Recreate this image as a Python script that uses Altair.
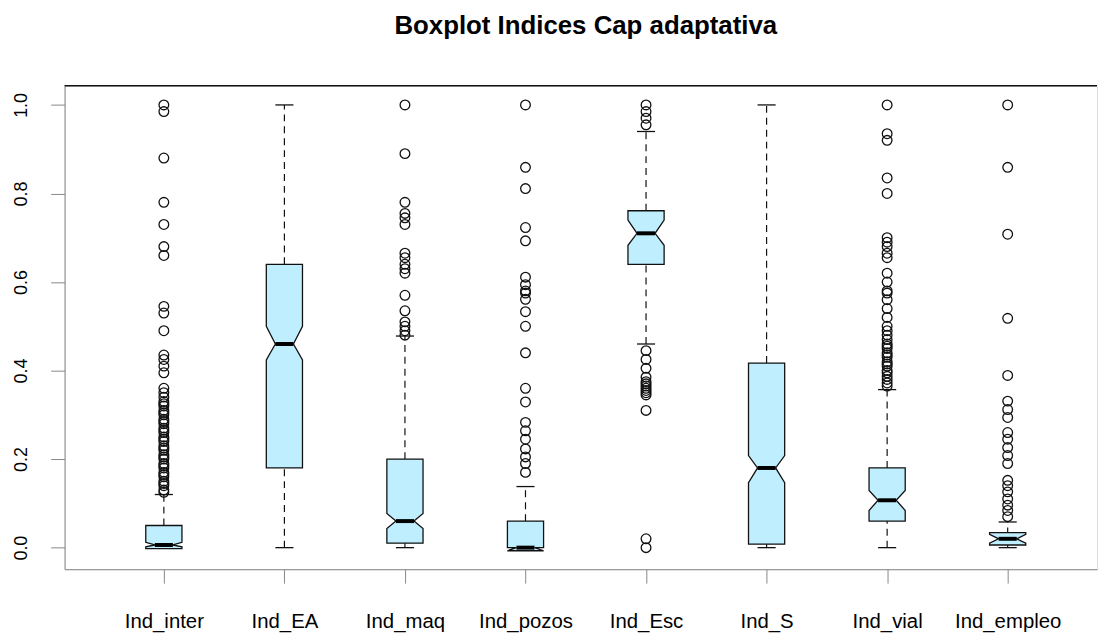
import json
import altair as alt
import pandas as pd

# ---------------- data ----------------
categories = ["Ind_inter", "Ind_EA", "Ind_maq", "Ind_pozos",
              "Ind_Esc", "Ind_S", "Ind_vial", "Ind_empleo"]

whisker_low = [0.0, 0.0, 0.0, 0.0, 0.46, 0.0, 0.0, 0.0]
q1          = [0.002, 0.18, 0.01, 0.0, 0.64, 0.008, 0.06, 0.01]
notch_low   = [-0.002, 0.424, 0.043, -0.007, 0.683, 0.147, 0.084, 0.006]
median      = [0.006, 0.46, 0.06, 0.0, 0.71, 0.18, 0.107, 0.02]
notch_high  = [0.012, 0.50, 0.077, 0.007, 0.74, 0.208, 0.129, 0.034]
q3          = [0.05, 0.64, 0.20, 0.06, 0.761, 0.417, 0.18, 0.03]
whisker_high = [0.12, 1.0, 0.478, 0.138, 0.94, 1.0, 0.357, 0.058]

out_inter = [0.125, 0.13, 0.14, 0.145, 0.15, 0.16, 0.165, 0.17, 0.18, 0.185,
             0.19, 0.20, 0.205, 0.21, 0.22, 0.225, 0.23, 0.24, 0.245, 0.25,
             0.26, 0.265, 0.27, 0.28, 0.285, 0.29, 0.30, 0.305, 0.31, 0.32,
             0.325, 0.33, 0.34, 0.35, 0.36, 0.395, 0.41, 0.425, 0.435, 0.49,
             0.53, 0.545, 0.66, 0.68, 0.73, 0.78, 0.88, 0.985, 1.0]
out_ea = []
out_maq = [0.48, 0.49, 0.50, 0.51, 0.535, 0.57, 0.62, 0.63, 0.64, 0.655,
           0.665, 0.73, 0.745, 0.755, 0.78, 0.89, 1.0]
out_pozos = [0.17, 0.19, 0.205, 0.223, 0.245, 0.264, 0.283, 0.329, 0.36,
             0.44, 0.50, 0.533, 0.561, 0.575, 0.58, 0.594, 0.611, 0.693,
             0.723, 0.811, 0.859, 1.0]
out_esc = [1.0, 0.985, 0.97, 0.955, 0.445, 0.425, 0.405, 0.385, 0.375, 0.37,
           0.365, 0.36, 0.355, 0.35, 0.345, 0.31, 0.02, 0.0]
out_s = []
out_vial = [0.365, 0.372, 0.38, 0.387, 0.395, 0.40, 0.41, 0.415, 0.42, 0.43,
            0.435, 0.44, 0.45, 0.455, 0.46, 0.47, 0.48, 0.49, 0.50, 0.52,
            0.54, 0.56, 0.575, 0.58, 0.60, 0.62, 0.655, 0.665, 0.68, 0.69,
            0.70, 0.80, 0.835, 0.92, 0.935, 1.0]
out_empleo = [0.07, 0.084, 0.096, 0.11, 0.126, 0.14, 0.152, 0.19, 0.208,
              0.226, 0.245, 0.26, 0.294, 0.312, 0.331, 0.389, 0.518, 0.708,
              0.859, 1.0]
outliers = [out_inter, out_ea, out_maq, out_pozos, out_esc, out_s, out_vial, out_empleo]

title_text = "Boxplot Indices Cap adaptativa"
y_ticks = [0.0, 0.2, 0.4, 0.6, 0.8, 1.0]
positions = [1, 2, 3, 4, 5, 6, 7, 8]

# ---------------- geometry helpers (data units) ----------------
HALF = 0.15          # half box width
NOTCH = 0.5          # notch fraction
CAP = 0.075          # half staple width
BOX_FILL = "#BFEFFF"
INK = "#111111"

box_rows, whisk_rows, cap_rows, med_rows, pt_rows = [], [], [], [], []
for i, cat in enumerate(categories):
    p = positions[i]
    seq = [(q1[i], 1.0), (notch_low[i], 1.0), (median[i], NOTCH),
           (notch_high[i], 1.0), (q3[i], 1.0)]
    for k, (yv, f) in enumerate(seq):
        box_rows.append(dict(cat=cat, k=k, y=yv, xl=p - HALF * f, xr=p + HALF * f))
    whisk_rows.append(dict(cat=cat, x=p, y1=q3[i], y2=whisker_high[i]))
    whisk_rows.append(dict(cat=cat, x=p, y1=whisker_low[i], y2=q1[i]))
    cap_rows.append(dict(cat=cat, xl=p - CAP, xr=p + CAP, y=whisker_high[i]))
    cap_rows.append(dict(cat=cat, xl=p - CAP, xr=p + CAP, y=whisker_low[i]))
    med_rows.append(dict(cat=cat, xl=p - HALF * NOTCH, xr=p + HALF * NOTCH, y=median[i]))
    for v in outliers[i]:
        pt_rows.append(dict(cat=cat, x=p, y=v))

box_df = pd.DataFrame(box_rows)
whisk_df = pd.DataFrame(whisk_rows)
cap_df = pd.DataFrame(cap_rows)
med_df = pd.DataFrame(med_rows)
pt_df = pd.DataFrame(pt_rows)

W, H = 1040, 487
xscale = alt.Scale(domain=[0.1765, 8.741], nice=False, zero=False)
yscale = alt.Scale(domain=[-0.0487, 1.0433], nice=False, zero=False)

label_expr = json.dumps(categories) + "[round(datum.value) - 1]"
xaxis = alt.Axis(values=positions, labelExpr=label_expr, title=None, grid=False,
                 tickSize=14, labelPadding=45, labelBaseline="alphabetic",
                 labelFontSize=20.5, labelAngle=0, labelAlign="center",
                 labelFlush=False, labelOverlap=False)
yaxis = alt.Axis(values=y_ticks, format=".1f", title=None, grid=False,
                 tickSize=14, labelPadding=24, labelAngle=270,
                 labelAlign="center", labelBaseline="alphabetic",
                 labelFontSize=18, labelFlush=False, labelOverlap=False)


def X(f):
    return alt.X(f, type="quantitative", scale=xscale, axis=xaxis)


def Y(f):
    return alt.Y(f, type="quantitative", scale=yscale, axis=yaxis)


whiskers = alt.Chart(whisk_df).mark_rule(
    color=INK, strokeWidth=1.2, strokeDash=[7, 5]
).encode(x=X("x"), y=Y("y1"), y2="y2:Q")

caps = alt.Chart(cap_df).mark_rule(color=INK, strokeWidth=1.3).encode(
    x=X("xl"), x2="xr:Q", y=Y("y"))

boxes = alt.Chart(box_df).mark_area(
    orient="horizontal", fill=BOX_FILL, stroke=INK, strokeWidth=1.3,
    opacity=1, fillOpacity=1
).encode(y=Y("y"), x=X("xl"), x2="xr:Q", detail="cat:N")

medians = alt.Chart(med_df).mark_rule(color="black", strokeWidth=4).encode(
    x=X("xl"), x2="xr:Q", y=Y("y"))

points = alt.Chart(pt_df).mark_point(
    shape="circle", filled=False, size=95, strokeWidth=1.3, color=INK, opacity=1
).encode(x=X("x"), y=Y("y"))

top_border = alt.Chart(pd.DataFrame({"a": [0]})).mark_rule(
    color=INK, strokeWidth=1.3
).encode(x=alt.value(0), x2=alt.value(W), y=alt.value(0))

title = alt.Chart(pd.DataFrame({"t": [title_text]})).mark_text(
    font="Liberation Sans", fontSize=26, fontWeight="bold", color="black",
    align="center", baseline="alphabetic"
).encode(text="t:N", x=alt.value(525), y=alt.value(-52))

chart = alt.layer(whiskers, caps, boxes, medians, points, top_border, title).properties(
    width=W, height=H,
    autosize=alt.AutoSizeParams(type="none"),
    padding={"left": 57, "top": 76, "right": 1, "bottom": 72},
).configure_view(stroke=None).configure_axis(
    labelFont="Liberation Sans", labelColor="#111111",
    domainColor=INK, tickColor=INK, domainWidth=1.3, tickWidth=1.3,
).configure(background="white")

chart.save("out.html", embed_options={"renderer": "svg", "actions": False})
